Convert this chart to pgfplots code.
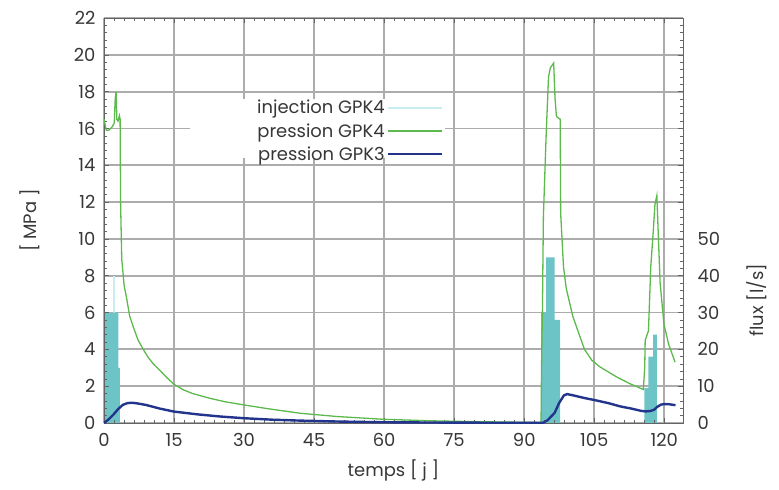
\documentclass[border=0pt]{standalone}
\usepackage{fontspec}
\setmainfont{Poppins}
\usepackage{pgfplots}
\pgfplotsset{compat=1.18}
\usetikzlibrary{calc}
\definecolor{cgreen}{RGB}{92,186,76}
\definecolor{cblue}{RGB}{35,52,140}
\definecolor{cteal}{RGB}{108,196,198}
\definecolor{clight}{RGB}{200,236,240}
\definecolor{cgrid}{RGB}{172,172,172}
\definecolor{caxis}{RGB}{100,100,100}
\definecolor{ctext}{RGB}{55,55,55}
\begin{document}
\begin{tikzpicture}
\pgfplotsset{every axis/.append style={
  scale only axis, width=579bp, height=405bp,
  xmin=0, xmax=124,
  /pgf/number format/assume math mode=true,
  tick label style={font=\fontsize{18}{20}\selectfont, text=ctext},
  label style={font=\fontsize{18}{20}\selectfont, text=ctext},
}}
% flux axis: grid, bars, right tick labels
\begin{axis}[
  name=flux,
  ymin=0, ymax=110,
  xtick={0,15,...,120}, xticklabels={},
  ytick={0,10,...,110},
  yticklabels={0,10,20,30,40,50,,,,,,},
  yticklabel pos=right,
  major tick length=0pt,
  grid=major,
  major grid style={cgrid, line width=1.9bp},
  axis line style={draw=none},
  yticklabel style={xshift=11bp},
]
\fill[white] (axis cs:18.4,72) rectangle (axis cs:73.1,88);
% light injection spike
\addplot[clight, line width=1.6bp] coordinates {(2.2,0) (2.2,40)};
% bars (l/s)
\addplot[const plot, fill=cteal, draw=none] coordinates {
  (0,30) (3.1,15) (3.4,15)} \closedcycle;
\addplot[const plot, fill=cteal, draw=none] coordinates {
  (93.6,30) (94.7,45) (96.5,28) (97.7,28)} \closedcycle;
\addplot[const plot, fill=cteal, draw=none] coordinates {
  (115.7,9.5) (116.6,18) (117.6,24) (118.4,24)} \closedcycle;
\end{axis}
% pressure axis
\begin{axis}[
  at={(flux.south west)}, anchor=south west,
  ymin=0, ymax=22,
  xtick={0,15,...,120}, ytick={0,2,...,22},
  minor x tick num=6, minor y tick num=4,
  tick align=inside, tick pos=both,
  major tick length=5bp, minor tick length=3bp,
  every tick/.style={caxis, line width=0.6bp},
  axis line style={caxis, line width=0.9bp},
  xticklabel style={yshift=-7bp},
  yticklabel style={xshift=-5bp},
  xlabel={temps [ j ]}, ylabel={[ MPa ]},
  xlabel style={at={(rel axis cs:0.5,0)}, anchor=center, yshift=-47bp},
  ylabel style={at={(rel axis cs:0,0.5)}, anchor=center, yshift=74bp},
  legend style={at={(rel axis cs:0.589,0.807)}, anchor=north east,
    draw=none, fill=none, font=\fontsize{18}{20}\selectfont, text=ctext,
    row sep=4bp, inner sep=2bp},
  legend cell align=right,
  legend plot pos=right,
  every odd column/.append style={column sep=6bp},
  legend image code/.code={\draw[#1] (0cm,0cm) -- (1.9cm,0cm);},
]
\addlegendimage{clight, line width=1.4bp}
\addlegendentry{injection GPK4}
\addplot[cgreen, line width=1.3bp] coordinates {
(0,16.5)(0.5,15.9)(1.0,15.9)(1.8,16.1)(2.2,16.3)(2.4,17.6)(2.6,18.0)(2.75,16.5)(3.0,16.4)(3.3,16.7)(3.45,16.5)
(3.55,12)(3.8,8.9)(4.3,7.5)(4.9,6.7)(5.5,5.8)(6.3,5.2)(7.3,4.5)(8.4,4.0)(9.5,3.55)(10.6,3.2)(12,2.85)(13.5,2.45)
(15,2.1)(17,1.8)(19,1.6)(22.7,1.34)(26,1.15)(30,0.98)(35,0.78)(42,0.53)(50,0.35)(60,0.2)(70,0.12)(80,0.07)(90,0.04)
(93.6,0.03)(93.7,3)(93.9,6.3)(94.1,11.2)(94.7,15.7)(95.2,18.8)(95.6,19.3)(96.3,19.55)(96.6,17.6)(96.9,16.65)(97.7,16.5)
(97.8,11.4)(98.4,8.5)(99,7.3)(100.4,5.8)(101.5,5.0)(102.9,4.0)(104.5,3.4)(106.2,3.05)(109.8,2.5)(112.5,2.15)(115.5,1.82)
(115.8,3.0)(115.9,4.5)(116.6,5.0)(117.1,8.5)(117.6,10.3)(118.0,11.9)(118.4,12.35)(118.8,9.6)(119.1,7.6)(119.9,5.4)(120.9,4.3)(122.3,3.3)};
\addlegendentry{pression GPK4}
\addplot[cblue, line width=2.4bp] coordinates {
(0,0)(1,0.2)(2,0.45)(3,0.75)(4,0.98)(5,1.08)(6,1.1)(7,1.07)(9,0.98)(12,0.78)(15,0.62)(20,0.47)(25,0.35)(30,0.26)
(36,0.18)(42,0.13)(50,0.08)(60,0.04)(75,0.02)(90,0.01)(94,0.01)(95,0.15)(96.5,0.55)(97.5,1.1)(98.5,1.5)(99.2,1.57)
(100.5,1.5)(103,1.35)(105,1.25)(108,1.08)(110.6,0.9)(113,0.78)(115,0.66)(116,0.63)(117,0.65)(117.8,0.72)(118.5,0.88)
(119.3,1.0)(120,1.03)(121,1.02)(122.4,0.97)};
\addlegendentry{pression GPK3}
\end{axis}
\node[rotate=90, font=\fontsize{18}{20}\selectfont, text=ctext] at ($(flux.south east)+(74bp,123bp)$) {flux [l/s]};
\pgfresetboundingbox
\path ($(flux.south west)+(-104bp,-67bp)$) rectangle +(779bp,490bp);
\end{tikzpicture}
\end{document}
